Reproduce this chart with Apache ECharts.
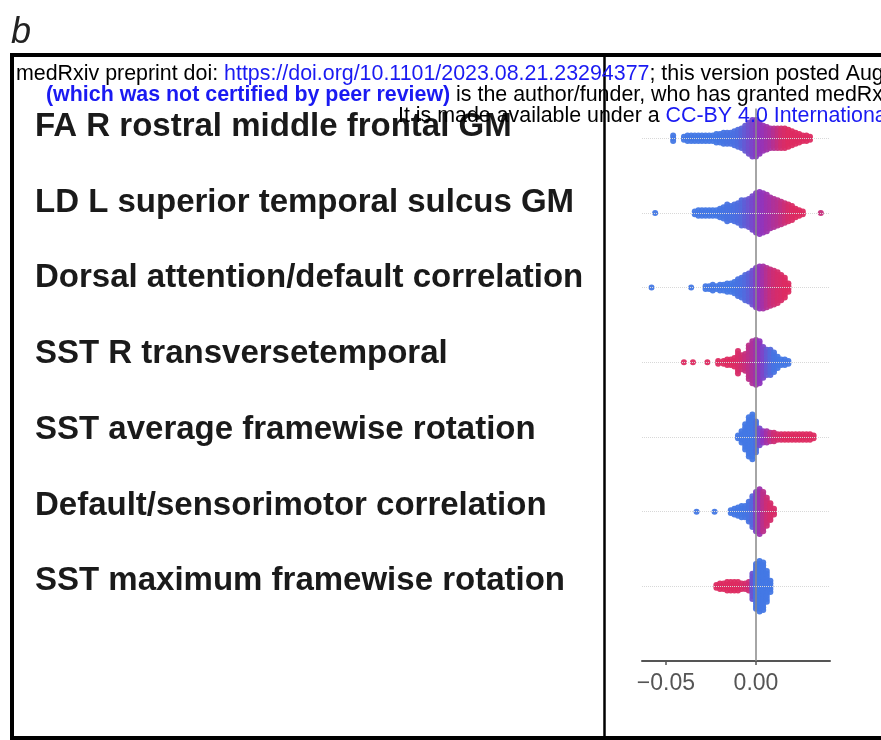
<!DOCTYPE html>
<html>
<head>
<meta charset="utf-8">
<title>SHAP summary</title>
<script src="https://cdn.jsdelivr.net/npm/echarts@6/dist/echarts.min.js"></script>
<style>
  html, body { margin: 0; padding: 0; background: #fff; }
  #chart { width: 881px; height: 740px; }
</style>
</head>
<body>
<div id="chart"></div>
<script>
// feature names, top to bottom
const features = [
  'FA R rostral middle frontal GM',
  'LD L superior temporal sulcus GM',
  'Dorsal attention/default correlation',
  'SST R transversetemporal',
  'SST average framewise rotation',
  'Default/sensorimotor correlation',
  'SST maximum framewise rotation'
];

const xTicks = [-0.05, 0];

// one row per feature: [SHAP value, number of subjects, feature value (0 low .. 1 high)]
const rowFA = [
  [-0.046, 3, 0.05],
  [-0.040, 2, 0.05], [-0.038, 3, 0.05], [-0.036, 3, 0.05], [-0.034, 3, 0.05], [-0.032, 3, 0.05],
  [-0.030, 3, 0.05], [-0.028, 3, 0.05], [-0.026, 3, 0.05], [-0.024, 3, 0.05], [-0.022, 4, 0.05],
  [-0.020, 4, 0.06], [-0.018, 5, 0.07], [-0.016, 5, 0.08], [-0.014, 5, 0.09], [-0.012, 6, 0.1],
  [-0.010, 7, 0.12], [-0.008, 8, 0.18], [-0.006, 10, 0.25], [-0.004, 12, 0.32], [-0.002, 14, 0.38],
  [0, 14, 0.45], [0.002, 12, 0.5], [0.004, 10, 0.55], [0.006, 9, 0.6], [0.008, 8, 0.65],
  [0.010, 8, 0.72], [0.012, 8, 0.8], [0.014, 8, 0.88], [0.016, 8, 0.92], [0.018, 7, 0.95],
  [0.020, 6, 0.95], [0.022, 5, 0.95], [0.024, 4, 0.95], [0.026, 3, 0.95], [0.028, 3, 0.95],
  [0.030, 2, 0.95]
];
const rowLD = [
  [-0.056, 1, 0.05],
  [-0.034, 2, 0.05], [-0.032, 3, 0.05], [-0.030, 3, 0.05], [-0.028, 3, 0.05], [-0.026, 3, 0.05],
  [-0.024, 3, 0.05], [-0.022, 3, 0.05], [-0.020, 4, 0.06], [-0.018, 5, 0.07], [-0.016, 7, 0.08],
  [-0.014, 6, 0.09], [-0.012, 7, 0.1], [-0.010, 8, 0.12], [-0.008, 10, 0.15], [-0.006, 10, 0.22],
  [-0.004, 11, 0.28], [-0.002, 13, 0.35], [0, 15, 0.42], [0.002, 16, 0.48], [0.004, 15, 0.52],
  [0.006, 14, 0.58], [0.008, 12, 0.62], [0.010, 11, 0.68], [0.012, 10, 0.72], [0.014, 9, 0.78],
  [0.016, 8, 0.84], [0.018, 7, 0.9], [0.020, 6, 0.93], [0.022, 4, 0.95], [0.024, 3, 0.95],
  [0.026, 2, 0.95],
  [0.036, 1, 0.82]
];
const rowDorsal = [
  [-0.058, 1, 0.05], [-0.036, 1, 0.05],
  [-0.028, 2, 0.05], [-0.026, 2, 0.05], [-0.024, 3, 0.05], [-0.022, 2, 0.05], [-0.020, 3, 0.05],
  [-0.018, 3, 0.05], [-0.016, 4, 0.05], [-0.014, 4, 0.05], [-0.012, 5, 0.06], [-0.010, 7, 0.08],
  [-0.008, 8, 0.1], [-0.006, 10, 0.14], [-0.004, 11, 0.2], [-0.002, 13, 0.3], [0, 15, 0.42],
  [0.002, 16, 0.52], [0.004, 16, 0.62], [0.006, 15, 0.72], [0.008, 14, 0.8], [0.010, 13, 0.86],
  [0.012, 12, 0.9], [0.014, 10, 0.92], [0.016, 8, 0.94], [0.018, 4, 0.95]
];
const rowSSTtemporal = [
  [-0.040, 1, 0.95], [-0.035, 1, 0.95], [-0.027, 1, 0.95], [-0.021, 2, 0.95],
  [-0.018, 2, 0.95], [-0.016, 3, 0.95], [-0.014, 3, 0.95], [-0.012, 4, 0.94], [-0.010, 9, 0.92],
  [-0.008, 6, 0.88], [-0.006, 7, 0.82], [-0.004, 13, 0.76], [-0.002, 16, 0.68], [0, 17, 0.6],
  [0.002, 16, 0.5], [0.004, 12, 0.38], [0.006, 10, 0.25], [0.008, 10, 0.15], [0.010, 8, 0.08],
  [0.012, 5, 0.06], [0.014, 3, 0.05], [0.016, 3, 0.05], [0.018, 2, 0.05]
];
const rowSSTavg = [
  [-0.010, 2, 0.05], [-0.008, 5, 0.05], [-0.006, 10, 0.05], [-0.004, 15, 0.05], [-0.002, 17, 0.05],
  [0, 12, 0.1], [0.002, 7, 0.35], [0.004, 5, 0.5], [0.006, 5, 0.62], [0.008, 4, 0.75],
  [0.010, 4, 0.85], [0.012, 3, 0.9], [0.014, 3, 0.92], [0.016, 3, 0.95], [0.018, 3, 0.95],
  [0.020, 3, 0.95], [0.022, 3, 0.95], [0.024, 3, 0.95], [0.026, 3, 0.95], [0.028, 3, 0.95],
  [0.030, 3, 0.95], [0.032, 2, 0.95]
];
const rowDefault = [
  [-0.033, 1, 0.05], [-0.023, 1, 0.05], [-0.014, 2, 0.05], [-0.012, 3, 0.05], [-0.010, 4, 0.05],
  [-0.008, 5, 0.05], [-0.006, 5, 0.06], [-0.004, 8, 0.08], [-0.002, 12, 0.15], [0, 15, 0.4],
  [0.002, 17, 0.58], [0.004, 15, 0.75], [0.006, 11, 0.85], [0.008, 7, 0.9], [0.010, 3, 0.92]
];
const rowSSTmax = [
  [-0.022, 2, 0.95], [-0.020, 3, 0.95], [-0.018, 3, 0.95], [-0.016, 4, 0.95], [-0.014, 4, 0.95],
  [-0.012, 4, 0.95], [-0.010, 4, 0.95], [-0.008, 3, 0.93], [-0.006, 3, 0.9], [-0.004, 4, 0.85],
  [-0.002, 10, 0.3], [0, 17, 0.08], [0.002, 19, 0.05], [0.004, 18, 0.05], [0.006, 12, 0.05],
  [0.008, 5, 0.05]
];

const rows = [rowFA, rowLD, rowDorsal, rowSSTtemporal, rowSSTavg, rowDefault, rowSSTmax];

// plot box of the swarm panel
const plotTop = 108.4, plotHeight = 552.6;
const yMin = -0.4, yMax = 7;
const dotGap = 2.8;                              // vertical px between stacked dots
const rowPx = plotHeight / (yMax - yMin);
const step = dotGap / rowPx;

// stack every bin's subjects symmetrically round its row
const points = [];
rows.forEach((bins, r) => {
  bins.forEach(([v, n, f]) => {
    for (let i = 0; i < n; i++) {
      points.push([v, r + (i - (n - 1) / 2) * step, f]);
    }
  });
});

const font = 'Liberation Sans, Arial, Helvetica, sans-serif';
const headStyle = { fontSize: 21.4, fontFamily: font, fontWeight: 'normal', color: '#000', lineHeight: 22 };
const linkStyle = { fontSize: 21.4, fontFamily: font, fontWeight: 'normal', color: '#1a1af2', lineHeight: 22 };

const chart = echarts.init(document.getElementById('chart'));

chart.setOption({
  animation: false,
  backgroundColor: '#fff',
  title: [
    {
      text: 'b', left: 11, top: 15, padding: 0,
      textStyle: { fontSize: 36, fontStyle: 'italic', fontWeight: 'normal', color: '#222', fontFamily: font }
    },
    {
      left: 16, top: 63, padding: 0,
      text: '{k|medRxiv preprint doi: }{u|https://doi.org/10.1101/2023.08.21.23294377}{k|; this version posted August 22, 2023.}',
      textStyle: { fontWeight: 'normal', rich: { k: headStyle, u: linkStyle } }
    },
    {
      left: 46, top: 84, padding: 0,
      text: '{b|(which was not certified by peer review)}{k| is the author/funder, who has granted medRxiv a license}',
      textStyle: { fontWeight: 'normal', rich: { k: headStyle, b: Object.assign({}, linkStyle, { fontWeight: 'bold' }) } }
    },
    {
      left: 398, top: 105, padding: 0,
      text: '{k|It is made available under a }{u|CC-BY 4.0 International license}',
      textStyle: { fontWeight: 'normal', rich: { k: headStyle, u: linkStyle } }
    }
  ],
  graphic: [
    {
      type: 'rect', silent: true,
      shape: { x: 12, y: 55, width: 900, height: 683 },
      style: { fill: null, stroke: '#000', lineWidth: 4 }
    },
    {
      type: 'line', silent: true,
      shape: { x1: 604.5, y1: 55, x2: 604.5, y2: 738 },
      style: { stroke: '#000', lineWidth: 2.5 }
    }
  ],
  grid: [
    { left: 642, top: plotTop, width: 188, height: plotHeight },
    { left: 35, top: 89, width: 1, height: 530 }
  ],
  xAxis: [
    {
      type: 'value', gridIndex: 0, min: -0.0633, max: 0.0411,
      splitLine: { show: false },
      axisLine: { show: true, onZero: false, lineStyle: { color: '#555', width: 2 } },
      axisTick: { show: true, customValues: xTicks, length: 4, lineStyle: { color: '#555', width: 1.5 } },
      axisLabel: {
        customValues: xTicks, margin: 11, fontSize: 23, color: '#555', fontFamily: font,
        formatter: v => v.toFixed(2).replace('-', '\u2212')
      }
    },
    { type: 'value', gridIndex: 1, show: false }
  ],
  yAxis: [
    { type: 'value', gridIndex: 0, min: yMin, max: yMax, inverse: true, show: false },
    {
      type: 'category', gridIndex: 1, data: features, inverse: true,
      axisLine: { show: false }, axisTick: { show: false },
      axisLabel: {
        inside: true, interval: 0, margin: 0,
        fontSize: 33, fontWeight: 'bold', color: '#1a1a1a', fontFamily: font
      }
    }
  ],
  visualMap: {
    show: false, type: 'continuous', seriesIndex: 1, dimension: 2, min: 0, max: 1,
    inRange: { color: ['#3a7fe9', '#8f35bf', '#e62a57'] }
  },
  series: [
    {
      // zero line and faint row guides
      type: 'scatter', xAxisIndex: 0, yAxisIndex: 0, data: [], z: 1, silent: true,
      markLine: {
        silent: true, symbol: 'none', label: { show: false }, animation: false,
        data: [{ xAxis: 0, lineStyle: { color: '#888', width: 1.5, type: 'solid' } }].concat(
          features.map((_, i) => ({ yAxis: i, lineStyle: { color: '#d8d8d8', width: 1, type: 'dotted' } }))
        )
      }
    },
    {
      type: 'scatter', xAxisIndex: 0, yAxisIndex: 0, z: 3, silent: true,
      symbolSize: 6,
      itemStyle: { opacity: 0.95 },
      data: points
    }
  ]
});
</script>
</body>
</html>
